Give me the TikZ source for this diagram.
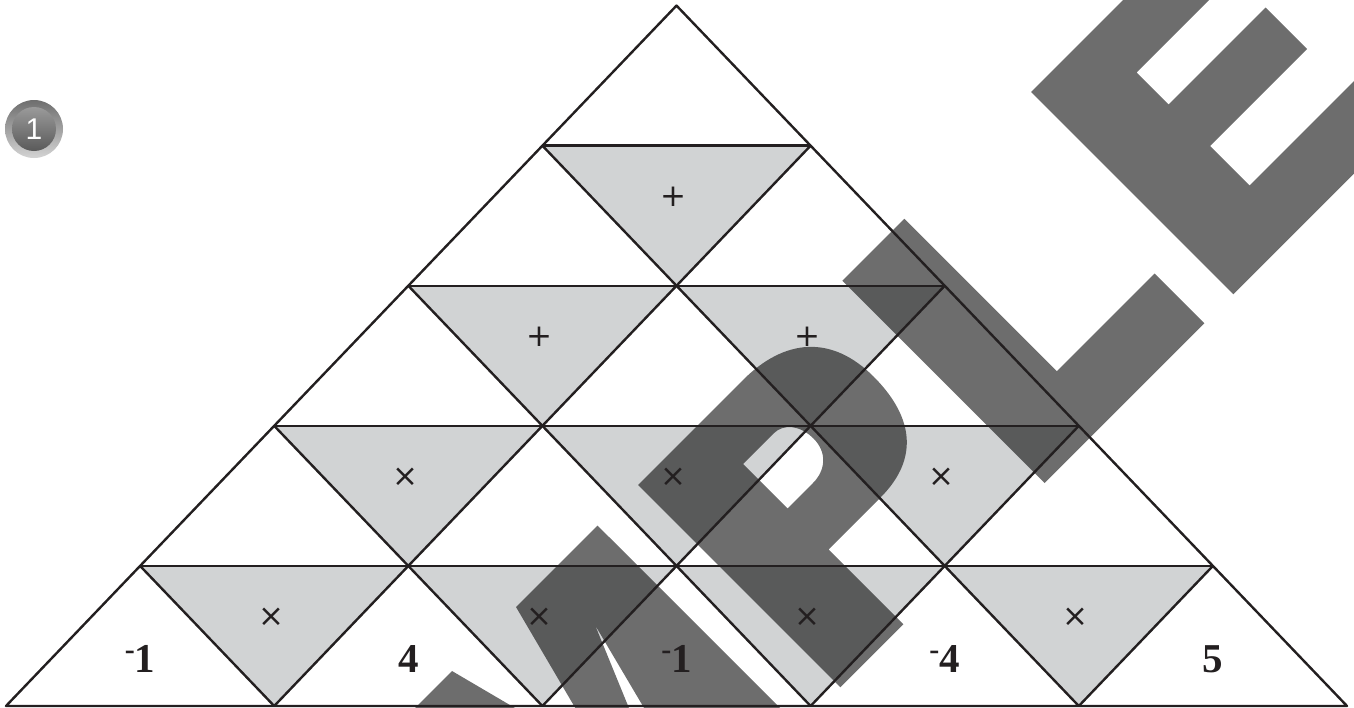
\documentclass[tikz,border=0pt]{standalone}
\usepackage{fontspec}
\setmainfont{Liberation Serif}
\newfontfamily\sansf{Liberation Sans}
\newfontfamily\symf{DejaVu Sans}
\definecolor{ink}{HTML}{231F20}
\definecolor{shadegray}{HTML}{D1D3D4}
\definecolor{ringtop}{HTML}{6E6E6E}
\definecolor{ringbot}{HTML}{D4D4D4}
\definecolor{disctop}{HTML}{9A9A9A}
\definecolor{discbot}{HTML}{5A5A5A}
\begin{document}
\begin{tikzpicture}[x=1pt,y=-1pt,line join=round,
  gridline/.style={draw=ink,line width=2.4pt},
  shadetri/.style={fill=shadegray},
  oplabel/.style={font=\symf\fontsize{31}{31}\selectfont,text=ink,inner sep=0pt},
  numlabel/.style={font=\fontsize{41}{41}\selectfont\bfseries,text=ink,inner sep=0pt},
  wm/.style={fill=black,fill opacity=0.573}]
\useasboundingbox (0,0) rectangle (1354,707);
\fill[white] (0,0) rectangle (1354,707);
\def\cx{676.5}\def\hw{134.1}\def\rh{140.08}\def\ty{5.6}
% vertices
\foreach \k in {0,...,5}{
  \foreach \i in {0,...,\k}{
    \coordinate (v\k\i) at ({\cx-\k*\hw+\i*2*\hw},{\ty+\k*\rh});
  }
}
% shaded downward triangles
\foreach \r in {2,...,5}{
  \pgfmathtruncatemacro\rp{\r-1}
  \pgfmathtruncatemacro\imax{\r-2}
  \foreach \i in {0,...,\imax}{
    \pgfmathtruncatemacro\ip{\i+1}
    \fill[shadetri] (v\rp\i) -- (v\rp\ip) -- (v\r\ip) -- cycle;
  }
}
% watermark
\begin{scope}
\clip (0,0) rectangle (1354,707);
\begin{scope}[x={(0.5pt,0.5pt)},y={(0.5pt,-0.5pt)}]
% E
\fill[wm] (939,1123) -- (1400,1123) -- (1400,1209) -- (1064,1209) -- (1064,1273)
  -- (1258,1273) -- (1258,1356) -- (1064,1356) -- (1064,1435) -- (1400,1435)
  -- (1400,1527.5) -- (939,1527.5) -- cycle;
% L
\fill[wm] (561.5,1123) -- (685.5,1123) -- (685.5,1428) -- (881,1428) -- (881,1527.5)
  -- (561.5,1527.5) -- cycle;
% P
\fill[wm,even odd rule] (153,1123) -- (363,1123)
  .. controls (445,1123) and (497,1165) .. (497,1250)
  .. controls (497,1325) and (465,1378) .. (383,1378)
  -- (279,1378) -- (279,1527.5) -- (153,1527.5) -- cycle
  (279,1207) -- (340,1207) .. controls (360,1207) and (375,1225) .. (375,1252)
  .. controls (375,1280) and (355,1296) .. (330,1296) -- (279,1296) -- cycle;
% M
\fill[wm] (-382,1123) -- (-219,1123) -- (-155,1369) -- (-91,1123) -- (72,1123)
  -- (72,1527.5) -- (-109,1527.5) -- (-30,1220) -- (-159,1527.5) -- (-382,1527.5) -- cycle;
\end{scope}
\end{scope}
% grid lines
\draw[gridline] (v00) -- (v50) -- (v55) -- cycle;
\foreach \k in {1,...,4}{ \draw[gridline] (v\k0) -- (v\k\k); }
\foreach \i in {1,...,4}{
  \pgfmathtruncatemacro\j{5-\i}
  \draw[gridline] (v5\i) -- (v\i\i);
  \draw[gridline] (v5\i) -- (v\j0);
}
% operation labels
\node[oplabel] (p21) at (673.5,196.7) {+};
\node[oplabel] (p31) at (539.4,336.8) {+};
\node[oplabel] (p32) at (807.6,336.8) {+};
\node[oplabel] (t41) at (405.3,477) {×};
\node[oplabel] (t42) at (673.5,477) {×};
\node[oplabel] (t43) at (941.7,477) {×};
\node[oplabel] (t51) at (271.2,617.5) {×};
\node[oplabel] (t52) at (539.4,617.5) {×};
\node[oplabel] (t53) at (807.6,617.5) {×};
\node[oplabel] (t54) at (1075.8,617.5) {×};
% numbers
\newcommand{\negsup}{{\fontsize{30}{30}\selectfont\raisebox{13pt}{-}}}
\node[numlabel] (n1) at (140.1,659) {\negsup1};
\node[numlabel] (n2) at (408.3,659) {4};
\node[numlabel] (n3) at (676.5,659) {\negsup1};
\node[numlabel] (n4) at (944.7,659) {\negsup4};
\node[numlabel] (n5) at (1212.9,659) {5};
% badge
\node[circle,minimum size=58pt,inner sep=0pt,top color=ringtop,bottom color=ringbot] (badgering) at (34,129) {};
\node[circle,minimum size=44pt,inner sep=0pt,top color=disctop,bottom color=discbot,
  text=white,font=\sansf\fontsize{30}{30}\selectfont] (badge) at (34,129) {1};
\end{tikzpicture}
\end{document}
